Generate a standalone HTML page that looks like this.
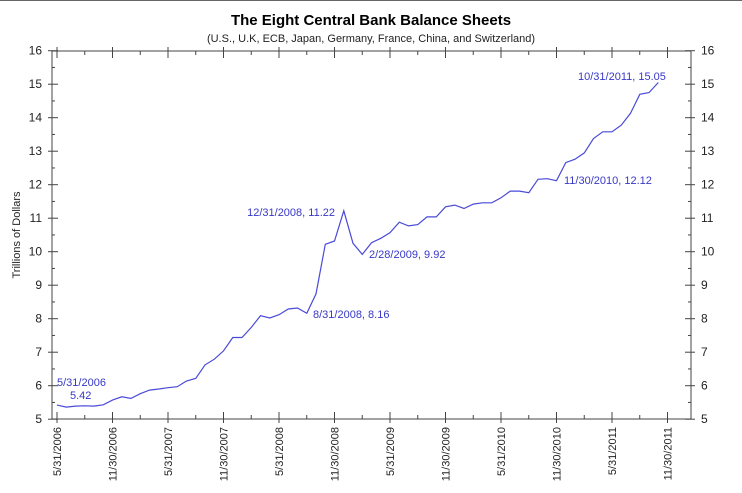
<!DOCTYPE html>
<html><head><meta charset="utf-8"><style>
html,body{margin:0;padding:0;background:#fff;}
svg{display:block;font-family:"Liberation Sans",sans-serif;}
</style></head><body>
<svg id="chart" width="742" height="493" viewBox="0 0 742 493">
<line x1="0" y1="0.5" x2="742" y2="0.5" stroke="#666" stroke-width="1"/>
<text x="371" y="25" text-anchor="middle" font-size="15" font-weight="bold" fill="#000">The Eight Central Bank Balance Sheets</text>
<text x="371" y="42" text-anchor="middle" font-size="11" fill="#222">(U.S., U.K, ECB, Japan, Germany, France, China, and Switzerland)</text>
<text transform="translate(20,235) rotate(-90)" text-anchor="middle" font-size="11" fill="#222">Trillions of Dollars</text>
<rect x="52" y="51" width="639" height="368" fill="none" stroke="#444" stroke-width="1"/>
<g id="axes"></g>
<polyline id="series" fill="none" stroke="#4a4ad8" stroke-width="1.2"/>
<g id="ann" font-size="11" fill="#3838c8">
<text x="57" y="386">5/31/2006</text>
<text x="70" y="399">5.42</text>
<text x="335" y="216" text-anchor="end">12/31/2008, 11.22</text>
<text x="313" y="318">8/31/2008, 8.16</text>
<text x="369" y="258">2/28/2009, 9.92</text>
<text x="564" y="184">11/30/2010, 12.12</text>
<text x="578" y="80">10/31/2011, 15.05</text>
</g>
</svg>
<script>
const values = [5.42,5.36,5.39,5.40,5.39,5.43,5.57,5.67,5.62,5.76,5.87,5.90,5.94,5.97,6.14,6.22,6.62,6.79,7.04,7.44,7.44,7.74,8.09,8.02,8.12,8.29,8.32,8.16,8.74,10.22,10.32,11.22,10.25,9.92,10.27,10.40,10.57,10.88,10.77,10.81,11.04,11.04,11.34,11.39,11.29,11.42,11.46,11.46,11.61,11.81,11.81,11.76,12.16,12.18,12.12,12.66,12.76,12.95,13.38,13.58,13.58,13.78,14.13,14.70,14.75,15.05];
const xLabels = ["5/31/2006","11/30/2006","5/31/2007","11/30/2007","5/31/2008","11/30/2008","5/31/2009","11/30/2009","5/31/2010","11/30/2010","5/31/2011","11/30/2011"];
const yTicks = [5,6,7,8,9,10,11,12,13,14,15,16];
const NS="http://www.w3.org/2000/svg";
const x0=57, monthW=9.25, yBase=419.2, unit=33.5;
function xs(i){return x0+i*monthW;}
function ys(v){return yBase-(v-5)*unit;}
const axes=document.getElementById('axes');
function mk(tag,attrs){const e=document.createElementNS(NS,tag);for(const k in attrs)e.setAttribute(k,attrs[k]);return e;}
yTicks.forEach(v=>{
  const y=ys(v);
  const l=mk('line',{x1:48,x2:58,y1:y,y2:y,stroke:'#444'});
  
  
  axes.appendChild(l);
  const r=mk('line',{x1:685,x2:695,y1:y,y2:y,stroke:'#444'});
  
  
  axes.appendChild(r);
  const t=mk('text',{x:42,y:y+4,'text-anchor':'end','font-size':12,fill:'#222'});
  t.textContent=v;
  
  
  axes.appendChild(t);
  const t2=mk('text',{x:701,y:y+4,'font-size':12,fill:'#222'});
  t2.textContent=v;
  
  
  axes.appendChild(t2);
  if(v<16){const ym=ys(v+0.5);
    const m1=mk('line',{x1:52,x2:55,y1:ym,y2:ym,stroke:'#444'});
    
    
    axes.appendChild(m1);
    const m2=mk('line',{x1:688,x2:691,y1:ym,y2:ym,stroke:'#444'});
    
    
    axes.appendChild(m2);}
});
for(let q=-1;q<=23;q++){
  const x=xs(q*3); if(x<52||x>691) continue;
  const major=(q%2===0);
  const b=mk('line',{x1:x,x2:x,y1:major?423:419,y2:major?412:415,stroke:'#444'});
  
  
  axes.appendChild(b);
  const t=mk('line',{x1:x,x2:x,y1:major?47:51,y2:major?58:55,stroke:'#444'});
  
  
  axes.appendChild(t);
}
xLabels.forEach((s,k)=>{
  const x=xs(k*6);
  const t=mk('text',{transform:`translate(${x+4},427) rotate(-90)`,'text-anchor':'end','font-size':11,fill:'#222'});
  t.textContent=s;
  
  
  axes.appendChild(t);
});
document.getElementById('series').setAttribute('points',values.map((v,i)=>xs(i).toFixed(1)+','+ys(v).toFixed(1)).join(' '));
</script>
</body></html>
